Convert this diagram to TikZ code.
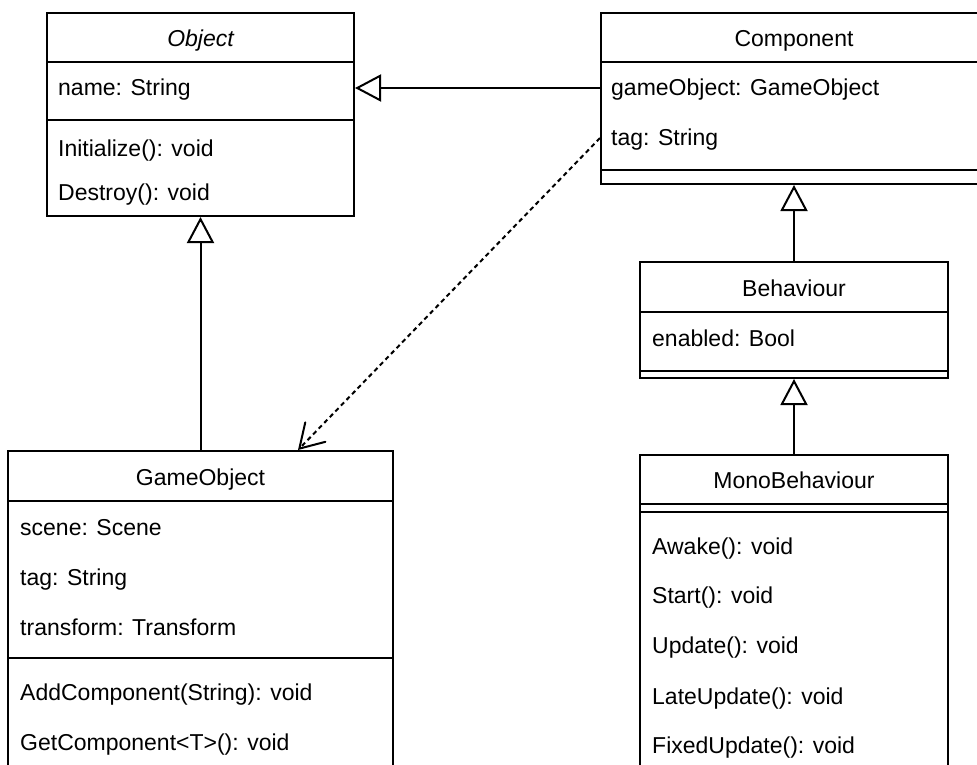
\documentclass[tikz,border=0pt]{standalone}
\usepackage{fontspec}
\setmainfont{Liberation Sans}
\usetikzlibrary{arrows.meta}
\begin{document}
\begin{tikzpicture}[x=1pt,y=-1pt,
  classbox/.style={draw, line width=2pt, rectangle, inner sep=0pt, fill=white},
  sep/.style={line width=2pt},
  lbl/.style={anchor=base west, inner sep=0pt, font=\fontsize{23}{27}\selectfont},
  ttl/.style={anchor=base, inner sep=0pt, font=\fontsize{23}{27}\selectfont},
  gen/.style={line width=2pt, -{Triangle[open, length=26pt, width=27pt, line join=miter]}},
  dep/.style={line width=2pt, dash pattern=on 4.5pt off 3.5pt,
    -{Straight Barb[length=23pt, width=28pt, line cap=round]}}]
\useasboundingbox (0,0) rectangle (977,765);

% class frames
\node[classbox, minimum width=307pt, minimum height=203pt] (object) at (200.5,114.5) {};
\node[classbox, minimum width=386pt, minimum height=171pt] (component) at (794,98.5) {};
\node[classbox, minimum width=308pt, minimum height=116pt] (behaviour) at (794,320) {};
\node[classbox, minimum width=308pt, minimum height=345pt] (mono) at (794,627.5) {};
\node[classbox, minimum width=385pt, minimum height=349pt] (gameobject) at (200.5,625.5) {};

% compartment separators
\draw[sep] (object.west |- 0,62) -- (object.east |- 0,62);
\draw[sep] (object.west |- 0,120.5) -- (object.east |- 0,120.5);
\draw[sep] (component.west |- 0,62) -- (component.east |- 0,62);
\draw[sep] (component.west |- 0,170) -- (component.east |- 0,170);
\draw[sep] (behaviour.west |- 0,312) -- (behaviour.east |- 0,312);
\draw[sep] (behaviour.west |- 0,370.5) -- (behaviour.east |- 0,370.5);
\draw[sep] (mono.west |- 0,504) -- (mono.east |- 0,504);
\draw[sep] (mono.west |- 0,512) -- (mono.east |- 0,512);
\draw[sep] (gameobject.west |- 0,501) -- (gameobject.east |- 0,501);
\draw[sep] (gameobject.west |- 0,658) -- (gameobject.east |- 0,658);

% Object
\node[ttl] (objTitle) at (200.5,47) {\itshape Object};
\node[lbl] (objName) at (58,96) {name: String};
\node[lbl] (objInit) at (58,157) {Initialize(): void};
\node[lbl] (objDestroy) at (58,200) {Destroy(): void};

% Component
\node[ttl] (compTitle) at (794,47) {Component};
\node[lbl] (compGO) at (611,96) {gameObject: GameObject};
\node[lbl] (compTag) at (611,146) {tag: String};

% Behaviour
\node[ttl] (behTitle) at (794,296) {Behaviour};
\node[lbl] (behEnabled) at (652,346) {enabled: Bool};

% MonoBehaviour
\node[ttl] (monoTitle) at (794,488) {MonoBehaviour};
\node[lbl] (monoAwake) at (652,554) {Awake(): void};
\node[lbl] (monoStart) at (652,603) {Start(): void};
\node[lbl] (monoUpdate) at (652,653) {Update(): void};
\node[lbl] (monoLate) at (652,704) {LateUpdate(): void};
\node[lbl] (monoFixed) at (652,753) {FixedUpdate(): void};

% GameObject
\node[ttl] (goTitle) at (200.5,485) {GameObject};
\node[lbl] (goScene) at (20,535) {scene: Scene};
\node[lbl] (goTag) at (20,585) {tag: String};
\node[lbl] (goTransform) at (20,635) {transform: Transform};
\node[lbl] (goAdd) at (20,700) {AddComponent(String): void};
\node[lbl] (goGet) at (20,750) {GetComponent<T>(): void};

% relations
\coordinate (genRow) at (0,88);
\coordinate (depRow) at (0,138);
\coordinate (depEnd) at (298,0);
\draw[gen] (component.west |- genRow) -- (object.east |- genRow);
\draw[gen] (behaviour.north) -- (component.south);
\draw[gen] (mono.north) -- (behaviour.south);
\draw[gen] (gameobject.north) -- (object.south);
\draw[dep] (component.west |- depRow) -- (gameobject.north -| depEnd);
\end{tikzpicture}
\end{document}
